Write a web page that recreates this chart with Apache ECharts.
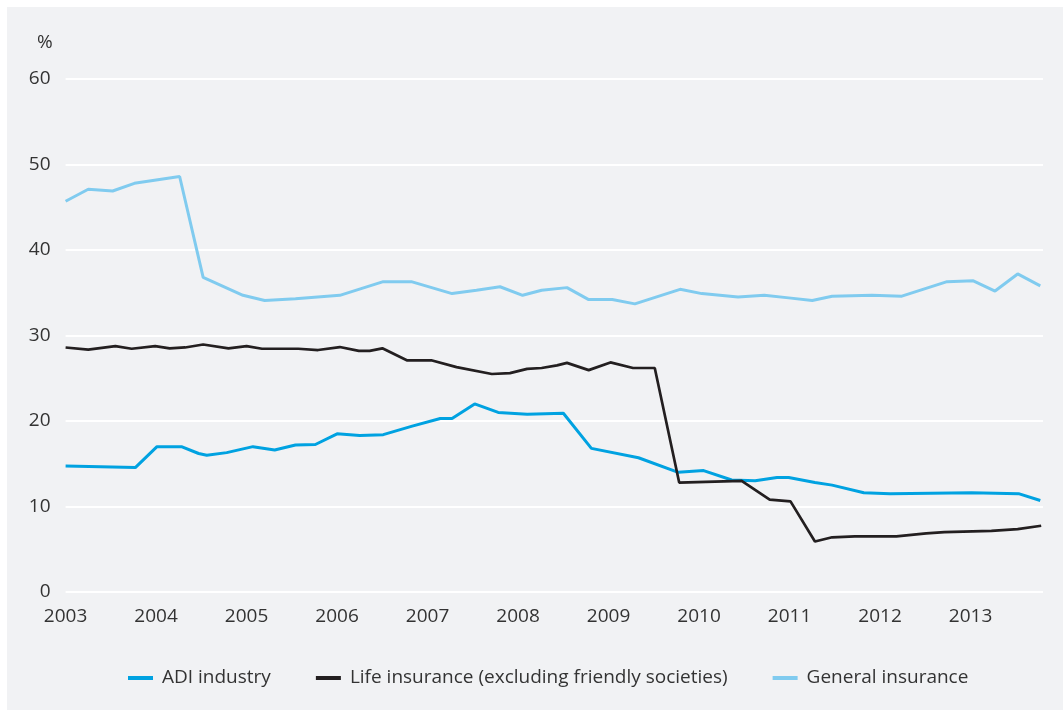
<!DOCTYPE html>
<html lang="en">
  <head>
    <meta charset="UTF-8" />
    <title>ADI, life and general insurance</title>
    <script src="https://cdn.jsdelivr.net/npm/echarts@6/dist/echarts.min.js"></script>
    <style>
      html, body { margin: 0; padding: 0; background: #ffffff; }
      #main { position: absolute; left: 7px; top: 7px; width: 1056px; height: 703px; }
    </style>
  </head>
  <body>
    <div id="main"></div>

    <script>
      // x values are decimal years
      const adiDates = [2003.00, 2003.77, 2004.01, 2004.28, 2004.47, 2004.56, 2004.78, 2005.07, 2005.31, 2005.54,
        2005.76, 2006.00, 2006.25, 2006.51, 2006.83, 2007.14, 2007.27, 2007.52, 2007.78, 2008.10, 2008.50,
        2008.81, 2009.33, 2009.77, 2010.05, 2010.36, 2010.62, 2010.86, 2010.99, 2011.28, 2011.47, 2011.82,
        2012.11, 2013.01, 2013.53, 2013.77];
      const adiValues = [14.75, 14.55, 17.0, 17.0, 16.2, 16.0, 16.3, 17.0, 16.6, 17.2,
        17.25, 18.5, 18.3, 18.4, 19.4, 20.3, 20.3, 22.0, 21.0, 20.8, 20.9,
        16.8, 15.7, 14.0, 14.2, 13.1, 13.0, 13.4, 13.4, 12.8, 12.5, 11.6,
        11.5, 11.6, 11.5, 10.7];

      const lifeDates = [2003.00, 2003.25, 2003.55, 2003.73, 2003.99, 2004.15, 2004.32, 2004.52, 2004.80, 2005.00,
        2005.17, 2005.57, 2005.79, 2006.03, 2006.24, 2006.36, 2006.50, 2006.77, 2007.04, 2007.32,
        2007.71, 2007.91, 2008.10, 2008.26, 2008.43, 2008.54, 2008.78, 2009.02, 2009.27, 2009.51,
        2009.78, 2010.47, 2010.78, 2011.01, 2011.28, 2011.47, 2011.72, 2012.18, 2012.51, 2012.71,
        2013.23, 2013.52, 2013.78];
      const lifeValues = [28.6, 28.35, 28.75, 28.45, 28.75, 28.5, 28.6, 28.95, 28.5, 28.75,
        28.45, 28.45, 28.3, 28.65, 28.2, 28.2, 28.5, 27.1, 27.1, 26.3,
        25.5, 25.6, 26.1, 26.2, 26.5, 26.8, 25.95, 26.85, 26.2, 26.2,
        12.8, 13.0, 10.8, 10.6, 5.9, 6.4, 6.5, 6.5, 6.85, 7.0,
        7.15, 7.35, 7.75];

      const giDates = [2003.00, 2003.25, 2003.52, 2003.76, 2004.26, 2004.52, 2004.96, 2005.20, 2005.54, 2006.03,
        2006.51, 2006.82, 2007.27, 2007.54, 2007.80, 2008.05, 2008.26, 2008.54, 2008.78, 2009.04,
        2009.29, 2009.79, 2010.03, 2010.43, 2010.72, 2010.99, 2011.25, 2011.47, 2011.91, 2012.24,
        2012.74, 2013.03, 2013.27, 2013.52, 2013.77];
      const giValues = [45.7, 47.1, 46.9, 47.8, 48.6, 36.8, 34.7, 34.1, 34.3, 34.7,
        36.3, 36.3, 34.9, 35.3, 35.7, 34.7, 35.3, 35.6, 34.2, 34.2,
        33.7, 35.4, 34.9, 34.5, 34.7, 34.4, 34.1, 34.6, 34.7, 34.6,
        36.3, 36.4, 35.2, 37.2, 35.8];

      const seriesNames = ['ADI industry', 'Life insurance (excluding friendly societies)', 'General insurance'];
      const seriesColors = ['#00a2e1', '#231f20', '#80cbef'];

      const pair = (xs, ys) => xs.map((x, i) => [x, ys[i]]);
      const textColor = '#333333';
      const font = '"Open Sans", "Noto Sans", sans-serif';

      const chart = echarts.init(document.getElementById('main'));

      const options = {
        backgroundColor: '#f1f2f4',
        animation: false,
        textStyle: { fontFamily: font },
        title: {
          text: '%',
          left: 25,
          top: 21,
          textStyle: { fontFamily: font, fontSize: 19, fontWeight: 'normal', color: textColor },
        },
        grid: { left: 58.6, right: 20, top: 72, bottom: 118 },
        legend: {
          left: 116,
          top: 656,
          icon: 'rect',
          itemWidth: 25,
          itemHeight: 4,
          itemGap: 45,
          textStyle: { fontSize: 19, color: textColor, padding: [0, 0, 0, 4], lineHeight: 20 },
          data: seriesNames,
        },
        xAxis: {
          type: 'value',
          min: 2003,
          max: 2013.8,
          interval: 1,
          axisLine: { show: false },
          axisTick: { show: false },
          splitLine: { show: false },
          axisLabel: {
            fontSize: 19,
            color: textColor,
            margin: 15,
            showMaxLabel: false,
            formatter: (v) => (Number.isInteger(v) ? String(v) : ''),
          },
        },
        yAxis: {
          type: 'value',
          min: 0,
          max: 60,
          interval: 10,
          axisLine: { show: false },
          axisTick: { show: false },
          splitLine: { lineStyle: { color: '#ffffff', width: 2 } },
          axisLabel: { fontSize: 19, color: textColor, margin: 15 },
        },
        series: [
          {
            name: seriesNames[0],
            type: 'line',
            data: pair(adiDates, adiValues),
            showSymbol: false,
            color: seriesColors[0],
            lineStyle: { width: 3 },
            z: 3,
          },
          {
            name: seriesNames[1],
            type: 'line',
            data: pair(lifeDates, lifeValues),
            showSymbol: false,
            color: seriesColors[1],
            lineStyle: { width: 2.7 },
            z: 4,
          },
          {
            name: seriesNames[2],
            type: 'line',
            data: pair(giDates, giValues),
            showSymbol: false,
            color: seriesColors[2],
            lineStyle: { width: 3 },
            z: 2,
          },
        ],
      };

      chart.setOption(options);

      window.onresize = function () {
        chart.resize();
      };
    </script>
  </body>
</html>
